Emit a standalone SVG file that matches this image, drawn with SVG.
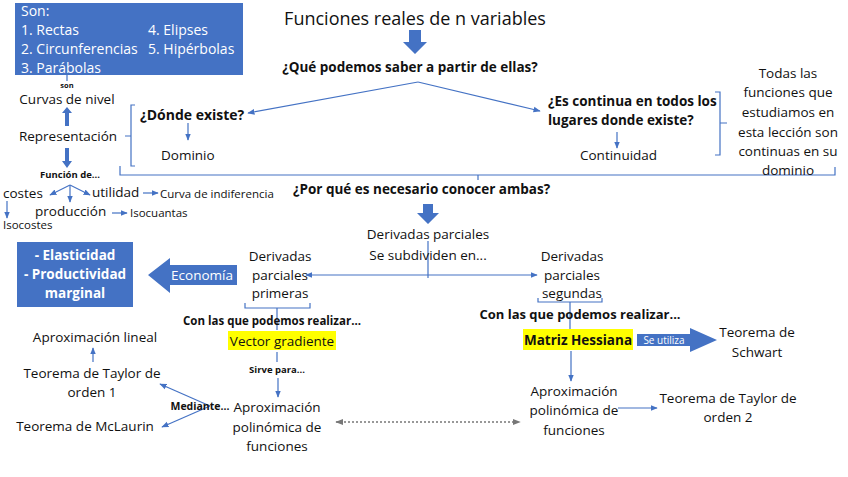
<svg xmlns="http://www.w3.org/2000/svg" width="848" height="477" viewBox="0 0 848 477">
<style>
text{font-family:"Open Sans","Liberation Sans",sans-serif;fill:#111}
.t{font-size:13.5px}.s{font-size:11.5px}.b{font-weight:bold}.xs{font-size:9.5px;font-weight:bold}
.m{text-anchor:middle}.w{fill:#fff}
.ln{stroke:#4472C4;stroke-width:1.2;fill:none}
.bl{fill:#4472C4}
</style>
<defs>
<marker id="a" viewBox="0 0 10 10" refX="9" refY="5" markerWidth="6" markerHeight="6" orient="auto-start-reverse"><path d="M0,1L10,5L0,9z" fill="#4472C4"/></marker>
<marker id="g" viewBox="0 0 10 10" refX="9" refY="5" markerWidth="6" markerHeight="6" orient="auto-start-reverse"><path d="M0,1L10,5L0,9z" fill="#777"/></marker>
</defs>
<rect width="848" height="477" fill="#fff"/>
<g id="connectors">
<path class="ln" d="M67,75V81"/>
<path class="ln" d="M418,82L248,113" marker-end="url(#a)"/>
<path class="ln" d="M418,82L540,111" marker-end="url(#a)"/>
<path class="ln" d="M188,123V140" marker-end="url(#a)"/>
<path class="ln" d="M135,105H131V166H135M131,136H125"/>
<path class="ln" d="M120,166V175H835V167M478,175V180"/>
<path class="ln" d="M617,132V148" marker-end="url(#a)"/>
<path class="ln" d="M715,92H720V155H715M720,123H727"/>
<path class="ln" d="M70,185L90,195" marker-end="url(#a)"/>
<path class="ln" d="M70,185L50,195" marker-end="url(#a)"/>
<path class="ln" d="M70,185V202" marker-end="url(#a)"/>
<path class="ln" d="M143,193H158" marker-end="url(#a)"/>
<path class="ln" d="M112,213H127" marker-end="url(#a)"/>
<path class="ln" d="M7,201V218" marker-end="url(#a)"/>
<path class="ln" d="M428,241V278"/>
<path class="ln" d="M428,275H306" marker-end="url(#a)"/>
<path class="ln" d="M428,275H537" marker-end="url(#a)"/>
<path class="ln" d="M245,303V308H310V303M277,308V330"/>
<path class="ln" d="M277,352V362"/>
<path class="ln" d="M278,378V397" marker-end="url(#a)"/>
<path d="M336,422H520" stroke="#777" stroke-width="1.3" stroke-dasharray="2,2" marker-start="url(#g)" marker-end="url(#g)"/>
<path class="ln" d="M210,406L160,384" marker-end="url(#a)"/>
<path class="ln" d="M210,406L162,427" marker-end="url(#a)"/>
<path class="ln" d="M93,362V348" marker-end="url(#a)"/>
<path class="ln" d="M538,298V302H602V298M570,302V329M571,351V381" marker-end="url(#a)"/>
<path class="ln" d="M618,408L657,408" marker-end="url(#a)"/>
</g>
<g id="son-box"><rect x="15" y="3" width="228" height="72" class="bl"/>
<text x="21" y="16" class="w" font-size="14">Son:</text>
<text x="21" y="35" class="w" font-size="14">1. Rectas</text><text x="148" y="35" class="w" font-size="14">4. Elipses</text>
<text x="21" y="54" class="w" font-size="14">2. Circunferencias</text><text x="148" y="54" class="w" font-size="14">5. Hipérbolas</text>
<text x="21" y="73" class="w" font-size="14">3. Parábolas</text></g>
<g id="title"><text x="415" y="25" class="m" font-size="18">Funciones reales de n variables</text>
<path class="bl" d="M409,30H421V42H427L415,54L403,42H409z"/></g>
<g id="q1"><text x="410" y="72" class="t b m">¿Qué podemos saber a partir de ellas?</text></g>
<g id="curvas"><text x="67" y="88" class="m" font-size="7.5" font-weight="bold">son</text><text x="67" y="104" class="t m">Curvas de nivel</text>
<path class="bl" d="M65,126V113H62L67,107L72,113H69V126z"/></g>
<g id="repr"><text x="68" y="141" class="t m">Representación</text>
<path class="bl" d="M65,148H69V161H72L67,168L62,161H65z"/>
<text x="70" y="178" class="xs m">Función de...</text></g>
<g id="funcs"><text x="3" y="198" class="t">costes</text><text x="92" y="197" class="t">utilidad</text>
<text x="160" y="198" class="s">Curva de indiferencia</text><text x="35" y="216" class="t">producción</text>
<text x="130" y="217" class="s">Isocuantas</text><text x="3" y="229" class="s">Isocostes</text></g>
<g id="donde"><text x="140" y="120" class="b" font-size="14">¿Dónde existe?</text><text x="161" y="160" class="t">Dominio</text></g>
<g id="continua"><text x="548" y="106" class="t b">¿Es continua en todos los</text><text x="548" y="125" class="t b">lugares donde existe?</text>
<text x="580" y="160" class="t">Continuidad</text></g>
<g id="todas"><text class="t m" x="788" y="78">Todas las</text><text class="t m" x="788" y="97">funciones que</text>
<text class="t m" x="788" y="117">estudiamos en</text><text class="t m" x="788" y="137">esta lección son</text>
<text class="t m" x="788" y="156">continuas en su</text><text class="t m" x="788" y="175">dominio</text></g>
<g id="q2"><text x="293" y="194" class="b" font-size="13.5">¿Por qué es necesario conocer ambas?</text>
<path class="bl" d="M423,204H433V213H439L428,224L417,213H423z"/></g>
<g id="dp"><text x="428" y="239" class="t m">Derivadas parciales</text><text x="428" y="260" class="t m">Se subdividen en...</text></g>
<g id="econ"><rect x="17" y="242" width="116" height="65" class="bl"/>
<text x="75" y="260" class="t b m w">- Elasticidad</text><text x="75" y="279" class="t b m w">- Productividad</text><text x="75" y="298" class="t b m w">marginal</text>
<path class="bl" d="M148,275L170,258V265H237V285H170V293z"/><text x="202" y="280" class="t m w">Economía</text></g>
<g id="primeras"><text class="t m" x="280" y="261">Derivadas</text><text class="t m" x="280" y="280">parciales</text><text class="t m" x="280" y="298">primeras</text>
<text x="272" y="325" class="b m" font-size="11.5">Con las que podemos realizar...</text>
<rect x="228" y="331" width="108" height="19" fill="#FFFF00"/><text x="282" y="346" class="t m">Vector gradiente</text>
<text x="277" y="373" class="xs m">Sirve para...</text></g>
<g id="aprox1"><text class="t m" x="277" y="412">Aproximación</text><text class="t m" x="277" y="432">polinómica de</text><text class="t m" x="277" y="451">funciones</text>
<text x="200" y="410" class="m" font-size="10.5" font-weight="bold">Mediante...</text></g>
<g id="taylor1"><text class="t m" x="95" y="342">Aproximación lineal</text><text class="t m" x="92" y="378">Teorema de Taylor de</text><text class="t m" x="92" y="397">orden 1</text>
<text class="t m" x="85" y="431">Teorema de McLaurin</text></g>
<g id="segundas"><text class="t m" x="572" y="261">Derivadas</text><text class="t m" x="572" y="280">parciales</text><text class="t m" x="572" y="298">segundas</text>
<text x="580" y="319" class="b m" font-size="13">Con las que podemos realizar...</text>
<rect x="523" y="329" width="110" height="21" fill="#FFFF00"/><text x="578" y="345" class="t b m">Matriz Hessiana</text>
<path class="bl" d="M637,334H690V328L717,340L690,352V346H637z"/><text x="664" y="344" class="m w" font-size="10">Se utiliza</text>
<text class="t m" x="757" y="337">Teorema de</text><text class="t m" x="757" y="357">Schwart</text></g>
<g id="aprox2"><text class="t m" x="574" y="396">Aproximación</text><text class="t m" x="574" y="415">polinómica de</text><text class="t m" x="574" y="435">funciones</text>
<text class="t m" x="728" y="403">Teorema de Taylor de</text><text class="t m" x="728" y="422">orden 2</text></g>
</svg>
